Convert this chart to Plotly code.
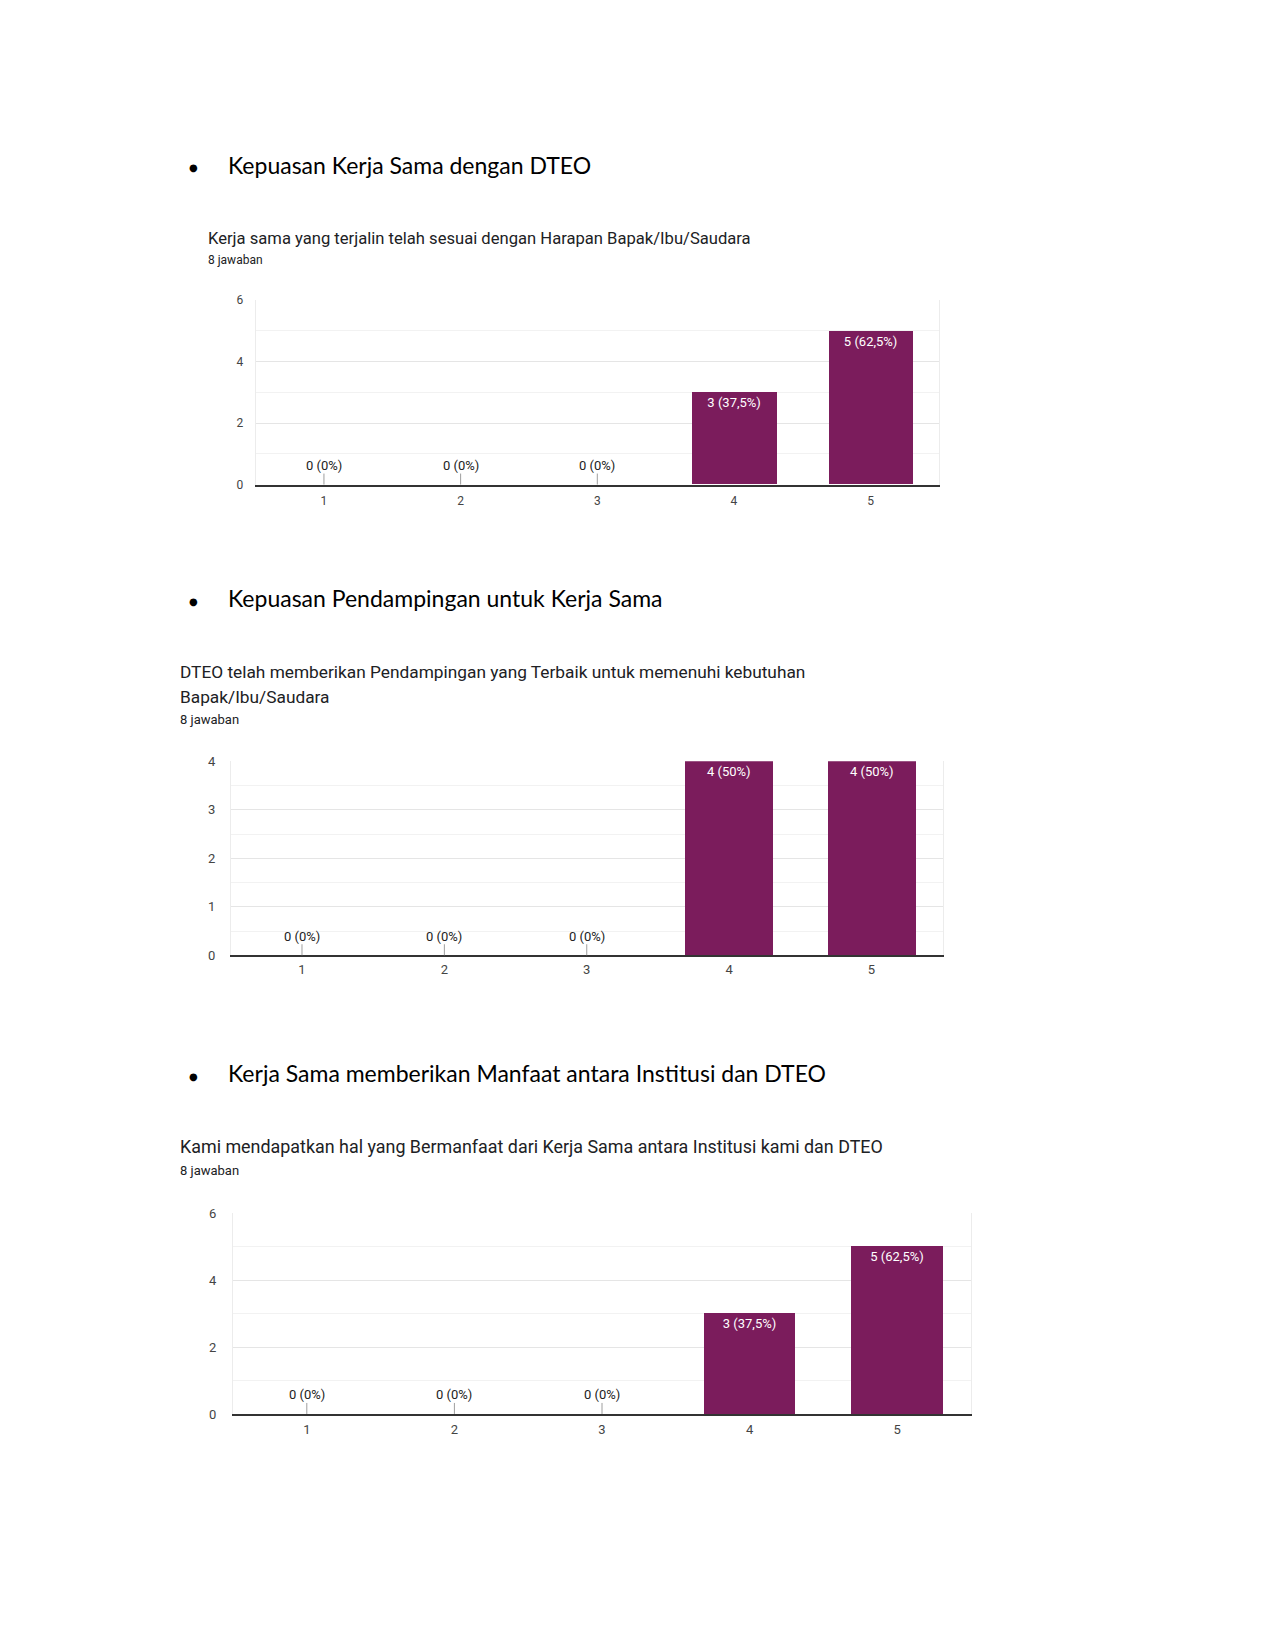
import plotly.graph_objects as go

# ---------------- data ----------------
categories = [1, 2, 3, 4, 5]
counts_1 = [0, 0, 0, 3, 5]
counts_2 = [0, 0, 0, 4, 4]
counts_3 = [0, 0, 0, 3, 5]

bullet_1 = "Kepuasan Kerja Sama dengan DTEO"
bullet_2 = "Kepuasan Pendampingan untuk Kerja Sama"
bullet_3 = "Kerja Sama memberikan Manfaat antara Institusi dan DTEO"

title_1 = ["Kerja sama yang terjalin telah sesuai dengan Harapan Bapak/Ibu/Saudara"]
title_2 = ["DTEO telah memberikan Pendampingan yang Terbaik untuk memenuhi kebutuhan",
           "Bapak/Ibu/Saudara"]
title_3 = ["Kami mendapatkan hal yang Bermanfaat dari Kerja Sama antara Institusi kami dan DTEO"]
responses_label = "8 jawaban"

y_ticks_1 = [0, 2, 4, 6]
y_ticks_2 = [0, 1, 2, 3, 4]
y_ticks_3 = [0, 2, 4, 6]

# ---------------- styling / layout ----------------
PURPLE = "#7b1c5c"
OFF = 8
W, H = 1250, 1620
VA, VB = 0.9914, 6.2   # vertical calibration of the rendered page


def px(x):
    return (x - OFF) / W


def py(y):
    y = (y - VB) / VA
    return 1 - (y - OFF) / H


def label(v, total):
    p = v / total * 100
    s = f"{p:.1f}".rstrip("0").rstrip(".").replace(".", ",")
    return f"{v} ({s}%)"


panels = [
    dict(counts=counts_1, bullet=bullet_1, title=title_1, yticks=y_ticks_1,
         bullet_y=164, title_y=[238], title_x=206, title_size=16.6, resp_y=259, resp_size=12,
         left=255.6, right=939, top=299.5, zero=484, minor=1, ylen=9, xlen=4, tick_size=12),
    dict(counts=counts_2, bullet=bullet_2, title=title_2, yticks=y_ticks_2,
         bullet_y=598, title_y=[671.5, 696.5], title_x=177.5, title_size=17.3, resp_y=719, resp_size=13,
         left=230.8, right=942.7, top=761, zero=955, minor=0.5, ylen=12, xlen=1, tick_size=13),
    dict(counts=counts_3, bullet=bullet_3, title=title_3, yticks=y_ticks_3,
         bullet_y=1073, title_y=[1146.5], title_x=178, title_size=17.9, resp_y=1170, resp_size=13,
         left=233, right=971, top=1213.3, zero=1414, minor=1, ylen=13, xlen=3, tick_size=13),
]

fig = go.Figure()
annotations = []
layout_axes = {}

for i, p in enumerate(panels, start=1):
    counts = p["counts"]
    total = sum(counts)
    xa = "x" if i == 1 else f"x{i}"
    ya = "y" if i == 1 else f"y{i}"
    fig.add_trace(go.Bar(
        x=categories, y=counts, width=0.62, marker=dict(color=PURPLE, line=dict(width=0)),
        text=[label(v, total) if v > 0 else "" for v in counts],
        textposition="inside", insidetextanchor="end", textangle=0,
        constraintext="none",
        textfont=dict(family="Roboto", size=13, color="white"),
        xaxis=xa, yaxis=ya, showlegend=False, hoverinfo="skip",
    ))
    for c, v in zip(categories, counts):
        if v == 0:
            annotations.append(dict(
                x=c, y=0, xref=xa, yref=ya, text=label(v, total),
                showarrow=True, arrowhead=0, arrowwidth=1, arrowcolor="#9e9e9e",
                ax=0, ay=-19, font=dict(family="Roboto", size=13, color="#222222"),
                borderpad=0,
            ))
    ymax = p["yticks"][-1]
    layout_axes["xaxis" if i == 1 else f"xaxis{i}"] = dict(
        domain=[px(p["left"]), px(p["right"])], anchor=ya,
        range=[0.5, 5.5], tickmode="array", tickvals=categories,
        ticktext=[str(c) for c in categories],
        showgrid=False, zeroline=False,
        showline=True, linecolor="#333333", linewidth=1.5,
        ticks="outside", ticklen=p["xlen"], tickcolor="rgba(0,0,0,0)",
        tickfont=dict(family="Roboto", size=p["tick_size"], color="#444444"),
        fixedrange=True,
    )
    layout_axes["yaxis" if i == 1 else f"yaxis{i}"] = dict(
        domain=[py(p["zero"]), py(p["top"])], anchor=xa,
        range=[0, ymax], tickmode="array", tickvals=p["yticks"],
        showgrid=True, gridcolor="#e5e5e5", gridwidth=1,
        minor=dict(tickmode="linear", tick0=0, dtick=p["minor"], showgrid=True,
                   gridcolor="#f2f2f2", gridwidth=1),
        zeroline=False,
        showline=True, mirror=True, linecolor="#ececec", linewidth=1,
        ticks="outside", ticklen=p["ylen"], tickcolor="rgba(0,0,0,0)",
        tickfont=dict(family="Roboto", size=p["tick_size"], color="#444444"),
        fixedrange=True,
    )
    # bullet heading
    annotations.append(dict(
        x=px(194), y=py(p["bullet_y"] + 3), xref="paper", yref="paper",
        text="●", showarrow=False, xanchor="center", yanchor="middle",
        font=dict(family="DejaVu Sans", size=10, color="#000000"),
    ))
    annotations.append(dict(
        x=px(225.5), y=py(p["bullet_y"]), xref="paper", yref="paper",
        text=p["bullet"], showarrow=False, xanchor="left", yanchor="middle",
        font=dict(family="Lato", size=23, color="#000000"),
    ))
    for line, ty in zip(p["title"], p["title_y"]):
        annotations.append(dict(
            x=px(p["title_x"]), y=py(ty), xref="paper", yref="paper",
            text=line, showarrow=False, xanchor="left", yanchor="middle",
            font=dict(family="Roboto", size=p["title_size"], color="#202124"),
        ))
    annotations.append(dict(
        x=px(p["title_x"]), y=py(p["resp_y"]), xref="paper", yref="paper",
        text=responses_label, showarrow=False, xanchor="left", yanchor="middle",
        font=dict(family="Roboto", size=p["resp_size"], color="#202124"),
    ))

fig.update_layout(
    width=W, height=H, margin=dict(l=0, r=0, t=0, b=0),
    paper_bgcolor="white", plot_bgcolor="white",
    bargap=0, annotations=annotations, **layout_axes,
)

fig.write_html("out.html")
